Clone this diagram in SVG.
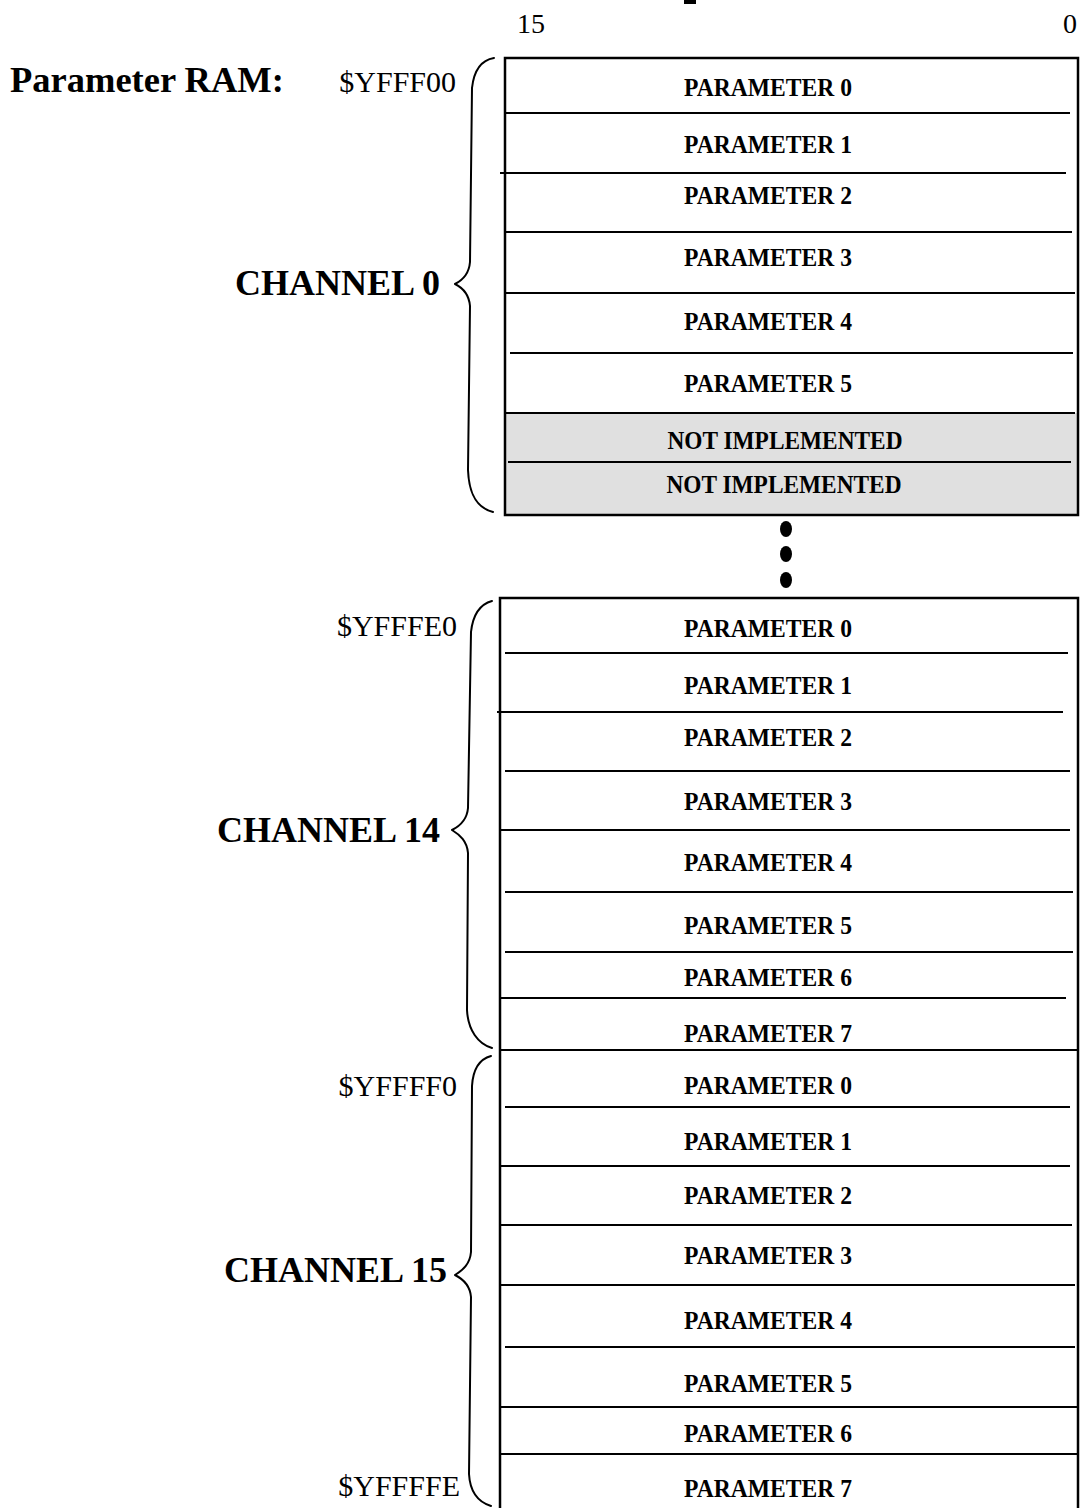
<svg xmlns="http://www.w3.org/2000/svg" width="1080" height="1508" viewBox="0 0 1080 1508">
<style>
.cell{font-family:"Liberation Serif","Times New Roman",serif;font-weight:bold;font-size:25px;text-anchor:middle;fill:#000}
.addr{font-family:"Liberation Serif","Times New Roman",serif;font-size:30px;text-anchor:end;fill:#000}
.ch{font-family:"Liberation Serif","Times New Roman",serif;font-weight:bold;font-size:36px;text-anchor:end;fill:#000}
.bit{font-family:"Liberation Serif","Times New Roman",serif;font-size:28px;text-anchor:middle;fill:#000}
.sep{stroke:#000;stroke-width:2;fill:none}
.box{stroke:#000;stroke-width:2.5;fill:none}
.brace{stroke:#000;stroke-width:2;fill:none;stroke-linecap:round;stroke-linejoin:round}
</style>
<rect width="1080" height="1508" fill="#fff"/>
<rect x="684" y="0" width="12" height="4" fill="#000"/>

<g id="header">
<text class="bit" x="531" y="33">15</text>
<text class="bit" x="1070" y="33">0</text>
<text x="10" y="92" font-family="Liberation Serif, Times New Roman, serif" font-weight="bold" font-size="36.5px" fill="#000">Parameter RAM:</text>
</g>

<g id="channel0">
<rect x="505" y="413" width="573" height="102" fill="#e0e0e0"/>
<rect x="505" y="58" width="573" height="457" class="box"/>
<line class="sep" x1="505" y1="113" x2="1070" y2="113"/>
<line class="sep" x1="500" y1="173" x2="1066" y2="173"/>
<line class="sep" x1="505" y1="232" x2="1072" y2="232"/>
<line class="sep" x1="505" y1="293" x2="1075" y2="293"/>
<line class="sep" x1="510" y1="353" x2="1073" y2="353"/>
<line class="sep" x1="505" y1="413" x2="1075" y2="413" stroke-width="3"/>
<line class="sep" x1="508" y1="462" x2="1071" y2="462"/>
<text class="cell" x="768" y="96" textLength="168" lengthAdjust="spacingAndGlyphs">PARAMETER 0</text>
<text class="cell" x="768" y="153" textLength="168" lengthAdjust="spacingAndGlyphs">PARAMETER 1</text>
<text class="cell" x="768" y="204" textLength="168" lengthAdjust="spacingAndGlyphs">PARAMETER 2</text>
<text class="cell" x="768" y="266" textLength="168" lengthAdjust="spacingAndGlyphs">PARAMETER 3</text>
<text class="cell" x="768" y="330" textLength="168" lengthAdjust="spacingAndGlyphs">PARAMETER 4</text>
<text class="cell" x="768" y="392" textLength="168" lengthAdjust="spacingAndGlyphs">PARAMETER 5</text>
<text class="cell" x="785" y="449" textLength="235" lengthAdjust="spacingAndGlyphs">NOT IMPLEMENTED</text>
<text class="cell" x="784" y="493" textLength="235" lengthAdjust="spacingAndGlyphs">NOT IMPLEMENTED</text>
<text class="addr" x="456" y="92">$YFFF00</text>
<text class="ch" x="440" y="295">CHANNEL 0</text>
</g>

<g id="ellipsis">
<ellipse cx="786" cy="529" rx="6" ry="8" fill="#000"/>
<ellipse cx="786" cy="554" rx="6" ry="8" fill="#000"/>
<ellipse cx="786" cy="580" rx="6" ry="8" fill="#000"/>
</g>

<g id="channel14_15">
<rect x="500" y="598" width="578" height="920" class="box"/>
</g>

<g id="channel14">
<line class="sep" x1="505" y1="653" x2="1068" y2="653"/>
<line class="sep" x1="497" y1="712" x2="1063" y2="712"/>
<line class="sep" x1="505" y1="771" x2="1070" y2="771"/>
<line class="sep" x1="500" y1="830" x2="1070" y2="830"/>
<line class="sep" x1="505" y1="892" x2="1073" y2="892"/>
<line class="sep" x1="505" y1="952" x2="1073" y2="952"/>
<line class="sep" x1="500" y1="998" x2="1066" y2="998"/>
<line class="sep" x1="500" y1="1050" x2="1078" y2="1050" stroke-width="2.5"/>
<text class="cell" x="768" y="637" textLength="168" lengthAdjust="spacingAndGlyphs">PARAMETER 0</text>
<text class="cell" x="768" y="694" textLength="168" lengthAdjust="spacingAndGlyphs">PARAMETER 1</text>
<text class="cell" x="768" y="746" textLength="168" lengthAdjust="spacingAndGlyphs">PARAMETER 2</text>
<text class="cell" x="768" y="810" textLength="168" lengthAdjust="spacingAndGlyphs">PARAMETER 3</text>
<text class="cell" x="768" y="871" textLength="168" lengthAdjust="spacingAndGlyphs">PARAMETER 4</text>
<text class="cell" x="768" y="934" textLength="168" lengthAdjust="spacingAndGlyphs">PARAMETER 5</text>
<text class="cell" x="768" y="986" textLength="168" lengthAdjust="spacingAndGlyphs">PARAMETER 6</text>
<text class="cell" x="768" y="1042" textLength="168" lengthAdjust="spacingAndGlyphs">PARAMETER 7</text>
<text class="addr" x="457" y="636">$YFFFE0</text>
<text class="ch" x="440" y="842">CHANNEL 14</text>
</g>

<g id="channel15">
<line class="sep" x1="505" y1="1107" x2="1070" y2="1107"/>
<line class="sep" x1="500" y1="1166" x2="1070" y2="1166"/>
<line class="sep" x1="500" y1="1225" x2="1072" y2="1225"/>
<line class="sep" x1="500" y1="1285" x2="1075" y2="1285"/>
<line class="sep" x1="505" y1="1347" x2="1075" y2="1347"/>
<line class="sep" x1="500" y1="1407" x2="1078" y2="1407"/>
<line class="sep" x1="500" y1="1454" x2="1078" y2="1454"/>
<text class="cell" x="768" y="1094" textLength="168" lengthAdjust="spacingAndGlyphs">PARAMETER 0</text>
<text class="cell" x="768" y="1150" textLength="168" lengthAdjust="spacingAndGlyphs">PARAMETER 1</text>
<text class="cell" x="768" y="1204" textLength="168" lengthAdjust="spacingAndGlyphs">PARAMETER 2</text>
<text class="cell" x="768" y="1264" textLength="168" lengthAdjust="spacingAndGlyphs">PARAMETER 3</text>
<text class="cell" x="768" y="1329" textLength="168" lengthAdjust="spacingAndGlyphs">PARAMETER 4</text>
<text class="cell" x="768" y="1392" textLength="168" lengthAdjust="spacingAndGlyphs">PARAMETER 5</text>
<text class="cell" x="768" y="1442" textLength="168" lengthAdjust="spacingAndGlyphs">PARAMETER 6</text>
<text class="cell" x="768" y="1497" textLength="168" lengthAdjust="spacingAndGlyphs">PARAMETER 7</text>
<text class="addr" x="457" y="1096">$YFFFF0</text>
<text class="addr" x="460" y="1496">$YFFFFE</text>
<text class="ch" x="447" y="1282">CHANNEL 15</text>
</g>

<g id="connectors">
<path class="brace" d="M494,58 C482,60 474,70 472,88 L470,262 C469,274 463,280 455,284 C463,288 469,294 470,306 L468,470 C469,495 477,508 493,512"/>
<path class="brace" d="M492,601 C481,604 473,614 471,632 L468,808 C467,820 460,826 452,830 C460,835 467,841 468,853 L467,1010 C468,1030 478,1044 492,1048"/>
<path class="brace" d="M491,1056 C480,1059 473,1069 472,1086 L471,1252 C470,1264 463,1270 455,1275 C463,1279 470,1285 471,1297 L469,1474 C470,1492 478,1502 491,1506"/>
</g>
</svg>
